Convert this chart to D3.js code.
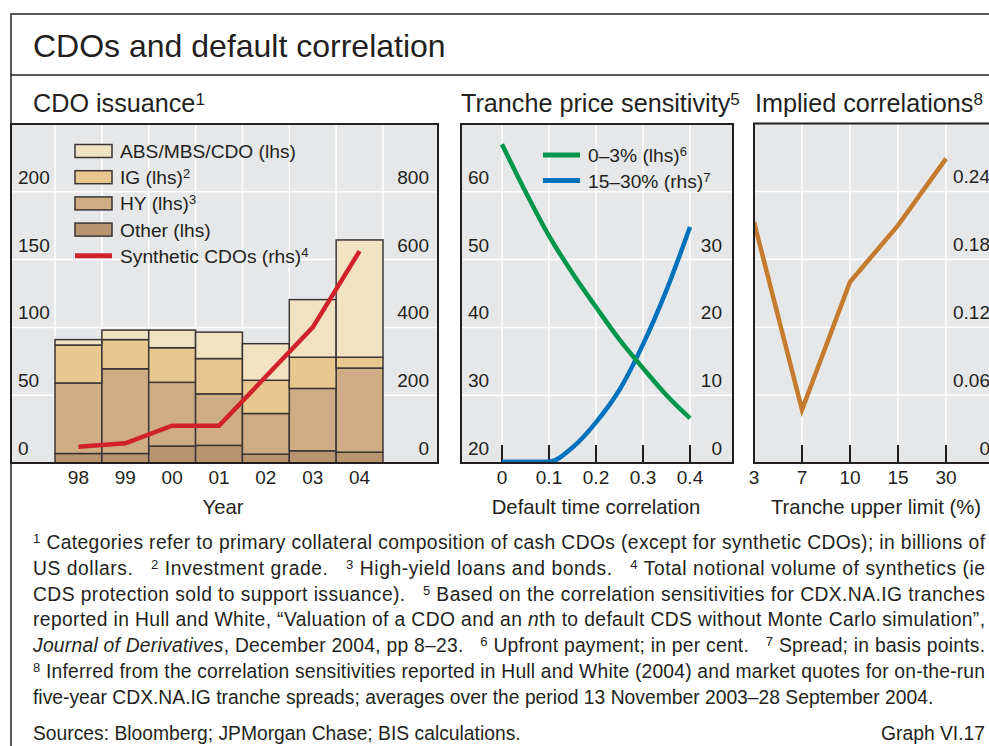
<!DOCTYPE html>
<html>
<head>
<meta charset="utf-8">
<script src="https://cdnjs.cloudflare.com/ajax/libs/d3/7.8.5/d3.min.js"></script>
<style>
  body { margin: 0; background: #fff; }
  svg { display: block; font-family: "Liberation Sans", Arial, Helvetica, sans-serif; }
  text { fill: #231f20; white-space: pre; }
</style>
</head>
<body>
<div id="app"></div>
<script>
// CDO issuance (bn USD, lhs) and synthetic notional (rhs)
const years = ['98', '99', '00', '01', '02', '03', '04'];
const other = [7, 7, 12.5, 13, 6.5, 9, 8];
const hy = [52, 62.5, 47, 38, 30, 46, 62];
const ig = [28, 21.5, 25.5, 26, 24.5, 23, 8];
const absMbsCdo = [4, 7, 13, 19.5, 27, 42.5, 86.5];
const synthetic = [48, 58, 110, 110, 255, 400, 625];
const issuanceLhsTicks = [0, 50, 100, 150, 200];
const issuanceRhsTicks = [0, 200, 400, 600, 800];

// tranche price sensitivity
const correlation = [0, 0.05, 0.1, 0.15, 0.2, 0.25, 0.3, 0.35, 0.4];
const equity03 = [67, 60, 53.5, 48, 43, 38.2, 34, 30, 26.6];
const senior1530 = [0.2, 0.2, 0.2, 2.3, 6, 10.8, 17.5, 25.5, 34.8];
const sensLhsTicks = [20, 30, 40, 50, 60];
const sensRhsTicks = [0, 10, 20, 30];
const corrTicks = [0, 0.1, 0.2, 0.3, 0.4];

// implied correlations
const trancheLimits = ['3', '7', '10', '15', '30'];
const impliedCorr = [0.213, 0.047, 0.16, 0.21, 0.269];
const impliedTicks = [0, 0.06, 0.12, 0.18, 0.24];

const ink = '#231f20';
const plotBg = '#e6e7e8';
const colors = { other: '#b9956f', hy: '#cfac84', ig: '#e8c88f', abs: '#f1e3c2' };
const tickSize = 19;

const svg = d3.select('#app').append('svg')
  .attr('width', 989)
  .attr('height', 746);

// rich text: parts are [text, kind], kind 's' superscript, 'i' italic
const rich = (sel, parts, shift) => {
  let up = false;
  parts.forEach(([t, k]) => {
    const ts = sel.append('tspan').text(t);
    if (k === 's') {
      ts.attr('font-size', '0.68em');
      if (!up) ts.attr('dy', -shift);
      up = true;
    } else {
      if (up) ts.attr('dy', shift);
      up = false;
      if (k === 'i') ts.attr('font-style', 'italic');
    }
  });
  return sel;
};

// outer frame
svg.append('path')
  .attr('d', 'M11,746V14H989')
  .attr('fill', 'none')
  .attr('stroke', ink)
  .attr('stroke-width', 1.5);
svg.append('line')
  .attr('x1', 11).attr('x2', 989)
  .attr('y1', 75).attr('y2', 75)
  .attr('stroke', ink)
  .attr('stroke-width', 1.5);

svg.append('text')
  .attr('x', 33).attr('y', 57)
  .attr('font-size', 32)
  .text('CDOs and default correlation');

[[33, [['CDO issuance', ''], ['1', 's']]],
 [461, [['Tranche price sensitivity', ''], ['5', 's']]],
 [755, [['Implied correlations', ''], ['8', 's']]]]
  .forEach(([x, parts]) => rich(
    svg.append('text').attr('x', x).attr('y', 112).attr('font-size', 25.2),
    parts, 7
  ));

const panel = (id, x0, x1, y0, y1) => {
  svg.append('clipPath').attr('id', id)
    .append('rect').attr('x', x0).attr('y', y0).attr('width', x1 - x0).attr('height', y1 - y0);
  const g = svg.append('g');
  g.append('rect')
    .attr('x', x0).attr('y', y0)
    .attr('width', x1 - x0).attr('height', y1 - y0)
    .attr('fill', plotBg);
  return g;
};
const border = (x0, x1, y0, y1) => svg.append('rect')
  .attr('x', x0).attr('y', y0)
  .attr('width', x1 - x0).attr('height', y1 - y0)
  .attr('fill', 'none')
  .attr('stroke', ink)
  .attr('stroke-width', 2);
const grid = (g, xs, ys, x0, x1, y0, y1) => {
  g.selectAll(null).data(ys).enter().append('line')
    .attr('x1', x0).attr('x2', x1)
    .attr('y1', d => d).attr('y2', d => d)
    .attr('stroke', '#fff').attr('stroke-width', 1.5);
  g.selectAll(null).data(xs).enter().append('line')
    .attr('x1', d => d).attr('x2', d => d)
    .attr('y1', y0).attr('y2', y1)
    .attr('stroke', '#fff').attr('stroke-width', 1.5);
};
const labels = (vals, x, y, anchor, fmt) => svg.append('g')
  .selectAll()
  .data(vals)
  .enter().append('text')
  .attr('x', x)
  .attr('y', y)
  .attr('text-anchor', anchor)
  .attr('font-size', tickSize)
  .text(fmt);
const axisTitle = (x, txt) => svg.append('text')
  .attr('x', x).attr('y', 514)
  .attr('text-anchor', 'middle')
  .attr('font-size', 20.3)
  .text(txt);

// ---------- panel 1: CDO issuance ----------
const P1 = { l: 11, r: 438, t: 124, b: 463 };
const xYear = d3.scaleBand().domain(years).range([55, 383]);
const yIss = d3.scaleLinear().domain([0, 250]).range([P1.b, P1.t]);
const ySyn = d3.scaleLinear().domain([0, 1000]).range([P1.b, P1.t]);

const g1 = panel('c1', P1.l, P1.r, P1.t, P1.b);
grid(g1,
  years.map(d => xYear(d)).concat([xYear.range()[1]]),
  issuanceLhsTicks.slice(1).map(yIss),
  P1.l, P1.r, P1.t, P1.b);

const table = years.map((year, i) => ({
  year, other: other[i], hy: hy[i], ig: ig[i], abs: absMbsCdo[i]
}));
const stacked = d3.stack().keys(['other', 'hy', 'ig', 'abs'])(table);

g1.append('g')
  .selectAll('g')
  .data(stacked)
  .enter().append('g')
  .attr('fill', d => colors[d.key])
  .selectAll('rect')
  .data(d => d)
  .enter().append('rect')
  .attr('x', d => xYear(d.data.year))
  .attr('width', xYear.bandwidth())
  .attr('y', d => yIss(d[1]))
  .attr('height', d => yIss(d[0]) - yIss(d[1]))
  .attr('stroke', '#3b3536')
  .attr('stroke-width', 1.5);

g1.append('path')
  .datum(synthetic)
  .attr('fill', 'none')
  .attr('stroke', '#d0222a')
  .attr('stroke-width', 4.5)
  .attr('d', d3.line()
    .x((_, i) => xYear(years[i]) + xYear.bandwidth() / 2)
    .y(d => ySyn(d)));

labels(issuanceLhsTicks, 18, d => yIss(d) - 8, 'start', d => d);
labels(issuanceRhsTicks, 429, d => ySyn(d) - 8, 'end', d => d);
labels(years, d => xYear(d) + xYear.bandwidth() / 2, 484, 'middle', d => d);
axisTitle(223, 'Year');

const legend1 = [
  { key: 'abs', parts: [['ABS/MBS/CDO (lhs)', '']] },
  { key: 'ig', parts: [['IG (lhs)', ''], ['2', 's']] },
  { key: 'hy', parts: [['HY (lhs)', ''], ['3', 's']] },
  { key: 'other', parts: [['Other (lhs)', '']] },
  { key: 'syn', parts: [['Synthetic CDOs (rhs)', ''], ['4', 's']] }
];
legend1.forEach((d, i) => {
  const cy = 151 + i * 26.2;
  if (d.key === 'syn') {
    svg.append('line')
      .attr('x1', 75).attr('x2', 112)
      .attr('y1', cy).attr('y2', cy)
      .attr('stroke', '#d0222a').attr('stroke-width', 5);
  } else {
    svg.append('rect')
      .attr('x', 75).attr('y', cy - 6.5)
      .attr('width', 37).attr('height', 13)
      .attr('fill', colors[d.key])
      .attr('stroke', '#3b3536').attr('stroke-width', 1.5);
  }
  rich(svg.append('text').attr('x', 120).attr('y', cy + 7).attr('font-size', 19.2), d.parts, 6);
});
border(P1.l, P1.r, P1.t, P1.b);

// ---------- panel 2: tranche price sensitivity ----------
const P2 = { l: 461, r: 733, t: 124, b: 463 };
const xCorr = d3.scaleLinear().domain([0, 0.4]).range([502, 690]);
const yEq = d3.scaleLinear().domain([20, 70]).range([P2.b, P2.t]);
const ySen = d3.scaleLinear().domain([0, 50]).range([P2.b, P2.t]);

const g2 = panel('c2', P2.l, P2.r, P2.t, P2.b);
grid(g2, corrTicks.map(xCorr), sensLhsTicks.slice(1).map(yEq), P2.l, P2.r, P2.t, P2.b);
g2.selectAll(null).data(corrTicks).enter().append('line')
  .attr('x1', xCorr).attr('x2', xCorr)
  .attr('y1', P2.b).attr('y2', P2.b - 18)
  .attr('stroke', ink).attr('stroke-width', 2);

const lines2 = g2.append('g').attr('clip-path', 'url(#c2)');
lines2.append('path')
  .datum(senior1530)
  .attr('fill', 'none')
  .attr('stroke', '#0071bb')
  .attr('stroke-width', 4.5)
  .attr('d', d3.line().curve(d3.curveMonotoneX)
    .x((_, i) => xCorr(correlation[i]))
    .y(d => ySen(d)));
lines2.append('path')
  .datum(equity03)
  .attr('fill', 'none')
  .attr('stroke', '#00964b')
  .attr('stroke-width', 4.5)
  .attr('d', d3.line().curve(d3.curveMonotoneX)
    .x((_, i) => xCorr(correlation[i]))
    .y(d => yEq(d)));

labels(sensLhsTicks, 468, d => yEq(d) - 8, 'start', d => d);
labels(sensRhsTicks, 722, d => ySen(d) - 8, 'end', d => d);
labels(corrTicks, xCorr, 484, 'middle', d => d);
axisTitle(596, 'Default time correlation');

[['#00964b', [['0–3% (lhs)', ''], ['6', 's']]],
 ['#0071bb', [['15–30% (rhs)', ''], ['7', 's']]]]
  .forEach(([c, parts], i) => {
    const cy = 155 + i * 25.5;
    svg.append('line')
      .attr('x1', 543).attr('x2', 580)
      .attr('y1', cy).attr('y2', cy)
      .attr('stroke', c).attr('stroke-width', 5);
    rich(svg.append('text').attr('x', 588).attr('y', cy + 7).attr('font-size', 19.2), parts, 6);
  });
border(P2.l, P2.r, P2.t, P2.b);

// ---------- panel 3: implied correlations ----------
const P3 = { l: 754, r: 1000, t: 123.5, b: 463 };
const xTr = d3.scalePoint().domain(trancheLimits).range([754, 946]);
const yImp = d3.scaleLinear().domain([0, 0.3]).range([P3.b, P3.t]);

const g3 = panel('c3', P3.l, P3.r, P3.t, P3.b);
grid(g3, trancheLimits.map(xTr), impliedTicks.slice(1).map(yImp), P3.l, P3.r, P3.t, P3.b);
g3.selectAll(null).data(trancheLimits).enter().append('line')
  .attr('x1', xTr).attr('x2', xTr)
  .attr('y1', P3.b).attr('y2', P3.b - 18)
  .attr('stroke', ink).attr('stroke-width', 2);

g3.append('g').attr('clip-path', 'url(#c3)')
  .append('path')
  .datum(impliedCorr)
  .attr('fill', 'none')
  .attr('stroke', '#c57b2e')
  .attr('stroke-width', 4.5)
  .attr('d', d3.line()
    .x((_, i) => xTr(trancheLimits[i]))
    .y(d => yImp(d)));

labels(impliedTicks, 990, d => yImp(d) - 8, 'end', d => (d === 0 ? '0' : d.toFixed(2)));
labels(trancheLimits, xTr, 484, 'middle', d => d);
axisTitle(876, 'Tranche upper limit (%)');
border(P3.l, P3.r, P3.t, P3.b);

// ---------- footnotes ----------
const footnotes = [
  [['1', 's'], [' Categories refer to primary collateral composition of cash CDOs (except for synthetic CDOs); in billions of', '']],
  [['US dollars.   ', ''], ['2', 's'], [' Investment grade.   ', ''], ['3', 's'], [' High-yield loans and bonds.   ', ''], ['4', 's'], [' Total notional volume of synthetics (ie', '']],
  [['CDS protection sold to support issuance).   ', ''], ['5', 's'], [' Based on the correlation sensitivities for CDX.NA.IG tranches', '']],
  [['reported in Hull and White, “Valuation of a CDO and an ', ''], ['n', 'i'], ['th to default CDS without Monte Carlo simulation”,', '']],
  [['Journal of Derivatives', 'i'], [', December 2004, pp 8–23.   ', ''], ['6', 's'], [' Upfront payment; in per cent.   ', ''], ['7', 's'], [' Spread; in basis points.', '']],
  [['8', 's'], [' Inferred from the correlation sensitivities reported in Hull and White (2004) and market quotes for on-the-run', '']],
  [['five-year CDX.NA.IG tranche spreads; averages over the period 13 November 2003–28 September 2004.', '']]
];
footnotes.forEach((parts, i) => {
  const t = svg.append('text')
    .attr('x', 33)
    .attr('y', 549 + i * 25.8)
    .attr('font-size', 19.3);
  rich(t, parts, 6);
  if (i < footnotes.length - 1) t.attr('textLength', 952).attr('lengthAdjust', 'spacing');
});
svg.append('text').attr('x', 33).attr('y', 740).attr('font-size', 19.3)
  .text('Sources: Bloomberg; JPMorgan Chase; BIS calculations.');
svg.append('text').attr('x', 985).attr('y', 740).attr('font-size', 19.3)
  .attr('text-anchor', 'end').text('Graph VI.17');
</script>
</body>
</html>
